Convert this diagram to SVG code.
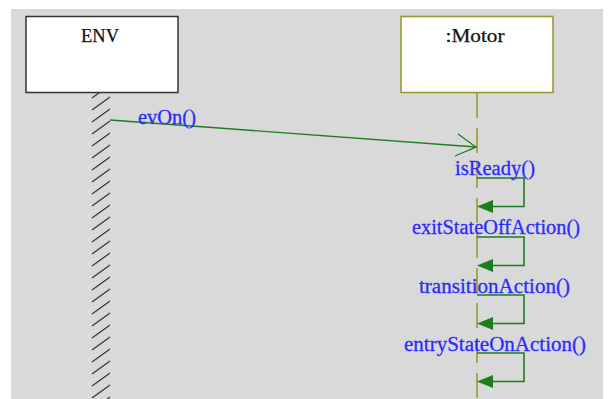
<svg xmlns="http://www.w3.org/2000/svg" width="610" height="399" viewBox="0 0 610 399">
  <style>
    .title { font-family: "Liberation Serif", "Times New Roman", serif; font-size: 19px; fill: #111; stroke: #111; stroke-width: 0.25; text-anchor: middle; }
    .msg { font-family: "Liberation Serif", "Times New Roman", serif; font-size: 20px; fill: #2b2bff; stroke: #2b2bff; stroke-width: 0.3; }
    .lifeline { stroke: #9a9a30; stroke-width: 1.6; stroke-dasharray: 25 10; fill: none; }
    .call { stroke: #1e7d1e; stroke-width: 1.3; fill: none; }
    .self { stroke: #1e7d1e; stroke-width: 1.6; fill: none; }
    .head { fill: #1e7d1e; }
    .hatch { stroke: #333; stroke-width: 1.2; fill: none; }
  </style>
  <defs>
    <clipPath id="envLife">
      <rect x="90" y="93" width="22" height="306"/>
    </clipPath>
  </defs>

  <!-- canvas -->
  <rect x="0" y="0" width="610" height="399" fill="#ffffff"/>
  <rect x="11" y="9" width="592" height="390" fill="#d9d9d9"/>

  <!-- ENV actor with hatched (environment) lifeline -->
  <g id="env">
    <path class="hatch" clip-path="url(#envLife)" d="M92,98 L110,85 M92,110 L110,97 M92,122 L110,109 M92,134 L110,121 M92,146 L110,133 M92,158 L110,145 M92,170 L110,157 M92,182 L110,169 M92,194 L110,181 M92,206 L110,193 M92,218 L110,205 M92,230 L110,217 M92,242 L110,229 M92,254 L110,241 M92,266 L110,253 M92,278 L110,265 M92,290 L110,277 M92,302 L110,289 M92,314 L110,301 M92,326 L110,313 M92,338 L110,325 M92,350 L110,337 M92,362 L110,349 M92,374 L110,361 M92,386 L110,373 M92,398 L110,385 M92,410 L110,397"/>
    <rect x="26" y="16.5" width="152" height="76" fill="#ffffff" stroke="#333" stroke-width="1.5"/>
    <text class="title" x="100" y="42" textLength="38" lengthAdjust="spacingAndGlyphs">ENV</text>
  </g>

  <!-- Motor object with dashed lifeline -->
  <g id="motor">
    <line class="lifeline" x1="477" y1="93" x2="477" y2="399"/>
    <rect x="401" y="16.5" width="152" height="76" fill="#ffffff" stroke="#9a9a30" stroke-width="1.6"/>
    <text class="title" x="475" y="42" textLength="59" lengthAdjust="spacingAndGlyphs">:Motor</text>
  </g>

  <!-- messages -->
  <g id="connectors">
    <!-- evOn(): asynchronous call, open arrowhead -->
    <line class="call" x1="110" y1="120" x2="476" y2="147"/>
    <polyline class="call" points="458,134 476,147 455,156"/>

    <!-- self calls on Motor -->
    <polyline class="self" points="477,178 524,178 524,206.5 490,206.5"/>
    <polygon class="head" points="477,206.5 493,200 493,213"/>

    <polyline class="self" points="477,237 524,237 524,265.5 490,265.5"/>
    <polygon class="head" points="477,265.5 493,259 493,272"/>

    <polyline class="self" points="477,295 524,295 524,323.5 490,323.5"/>
    <polygon class="head" points="477,323.5 493,317 493,330"/>

    <polyline class="self" points="477,353 524,353 524,381.5 490,381.5"/>
    <polygon class="head" points="477,381.5 493,375 493,388"/>
  </g>

  <!-- message labels -->
  <g id="labels">
    <text class="msg" x="138" y="124" textLength="58" lengthAdjust="spacingAndGlyphs">evOn()</text>
    <text class="msg" x="455" y="175" textLength="80" lengthAdjust="spacingAndGlyphs">isReady()</text>
    <text class="msg" x="412" y="234" textLength="168" lengthAdjust="spacingAndGlyphs">exitStateOffAction()</text>
    <text class="msg" x="419" y="292.5" textLength="151" lengthAdjust="spacingAndGlyphs">transitionAction()</text>
    <text class="msg" x="404" y="351" textLength="182" lengthAdjust="spacingAndGlyphs">entryStateOnAction()</text>
  </g>
</svg>
